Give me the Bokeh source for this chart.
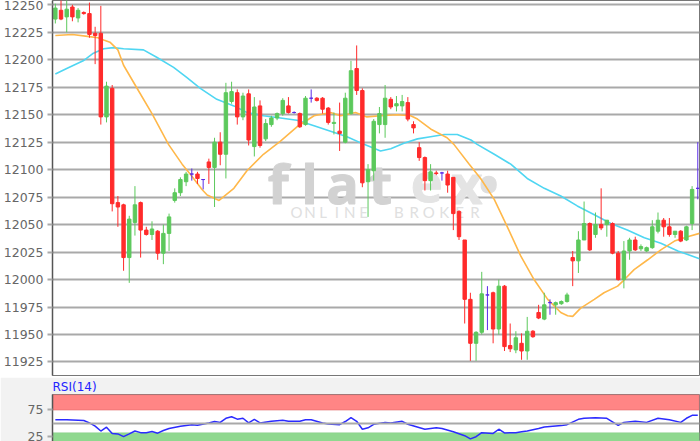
from bokeh.plotting import figure
from bokeh.layouts import column
from bokeh.models import (Range1d, FixedTicker, Label, BoxAnnotation, Span,
                          ColumnDataSource, GlobalInlineStyleSheet)
from bokeh.embed import file_html
from bokeh.resources import INLINE

# ---------------- data ----------------
opens = [12237, 12245, 12239, 12248, 12238, 12243, 12242, 12224, 12224, 12148,
         12174, 12070, 12068, 12020, 12052, 12070, 12045, 12041, 12044, 12024,
         12042, 12072, 12079, 12089, 12096, 12096, 12091, 12107, 12102, 12125,
         12114, 12162, 12170, 12148, 12169, 12121, 12158, 12128, 12141, 12147,
         12151, 12158, 12152, 12151, 12141, 12165, 12165, 12165, 12156, 12142,
         12135, 12125, 12151, 12192, 12172, 12089, 12099, 12141, 12141, 12164,
         12158, 12158, 12161, 12141, 12120, 12111, 12090, 12097, 12097, 12096,
         12093, 12062, 12036, 11982, 11942, 11952, 11986, 11988, 11955, 11994,
         11940, 11936, 11942, 11935, 11953, 11970, 11964, 11979, 11977, 11978,
         11980, 12020, 12017, 12036, 12051, 12041, 12050, 12050, 12051, 12024,
         12000, 12026, 12036, 12028, 12026, 12029, 12044, 12054, 12048, 12041,
         12044, 12036, 12051, 12083]
highs = [12251, 12256, 12256, 12250, 12247, 12244, 12252, 12230, 12249, 12180,
         12177, 12076, 12069, 12058, 12085, 12071, 12048, 12053, 12045, 12050,
         12060, 12083, 12093, 12098, 12101, 12098, 12091, 12110, 12129, 12134,
         12179, 12180, 12173, 12170, 12173, 12166, 12163, 12146, 12149, 12152,
         12165, 12166, 12153, 12152, 12167, 12173, 12166, 12166, 12157, 12152,
         12161, 12170, 12199, 12213, 12174, 12105, 12146, 12157, 12177, 12166,
         12167, 12168, 12166, 12144, 12125, 12112, 12105, 12099, 12098, 12099,
         12093, 12063, 12036, 11988, 11953, 12007, 11994, 11989, 12000, 11995,
         11960, 11953, 11951, 11966, 11954, 11977, 11988, 11982, 11980, 11981,
         11988, 12026, 12044, 12071, 12052, 12061, 12083, 12054, 12052, 12026,
         12035, 12038, 12039, 12032, 12030, 12054, 12061, 12056, 12056, 12044,
         12045, 12049, 12085, 12125]
lows = [12233, 12236, 12225, 12235, 12234, 12241, 12220, 12196, 12141, 12143,
        12062, 12048, 12008, 11997, 12040, 12020, 12040, 12036, 12018, 12014,
        12026, 12070, 12076, 12085, 12090, 12087, 12082, 12087, 12066, 12104,
        12092, 12160, 12141, 12145, 12122, 12112, 12120, 12126, 12139, 12145,
        12149, 12151, 12151, 12138, 12140, 12161, 12162, 12151, 12141, 12132,
        12117, 12124, 12150, 12168, 12084, 12057, 12090, 12133, 12129, 12155,
        12153, 12153, 12144, 12133, 12108, 12081, 12081, 12095, 12090, 12079,
        12045, 12036, 11960, 11926, 11926, 11950, 11954, 11942, 11950, 11935,
        11934, 11933, 11927, 11927, 11947, 11964, 11963, 11968, 11968, 11977,
        11979, 11994, 12006, 12036, 12026, 12038, 12045, 12039, 12023, 11999,
        11992, 12018, 12026, 12026, 12025, 12028, 12042, 12039, 12039, 12038,
        12034, 12035, 12045, 12073]
closes = [12247, 12237, 12246, 12239, 12245, 12242, 12223, 12222, 12148, 12176,
          12069, 12066, 12020, 12055, 12068, 12045, 12041, 12046, 12024, 12042,
          12057, 12079, 12091, 12096, 12096, 12092, 12091, 12102, 12125, 12114,
          12170, 12171, 12148, 12167, 12127, 12157, 12122, 12142, 12147, 12151,
          12163, 12152, 12152, 12139, 12165, 12165, 12163, 12155, 12143, 12143,
          12133, 12165, 12190, 12172, 12088, 12100, 12144, 12151, 12165, 12157,
          12160, 12162, 12146, 12138, 12111, 12090, 12098, 12096.5, 12097, 12086,
          12060, 12039, 11982, 11942, 11952, 11987, 11986, 11955, 11994, 11939,
          11937, 11947, 11935, 11953, 11948, 11965, 11977, 11979, 11979, 11980,
          11986, 12017, 12036, 12051, 12027, 12050, 12047, 12054, 12024, 12000,
          12026, 12036, 12027, 12030, 12029, 12048, 12054, 12048, 12041, 12044,
          12035, 12048, 12082, 12083]

# moving averages, read at sample positions (candle index, price)
ma_fast_x = [0, 3, 6, 7.5, 8.5, 9.6, 11, 12, 14.6, 17, 19.9, 22.3, 23.7, 25.8, 26.7,
             28.8, 31.4, 33.7, 36.6, 39.6, 42.5, 45.5, 48.4, 50.2, 52.8, 54.8, 57.2,
             60.1, 62.5, 63.7, 66, 68.9, 70.1, 72.8, 74.8, 77.2, 79.5, 81.9, 84.2,
             86.6, 88.9, 90.1, 91, 92.4, 94.8, 96.5, 98.9, 100.1, 101.8, 104.2,
             106.5, 108.9, 111.2, 113.3]
ma_fast_y = [12222, 12223, 12221, 12220, 12218, 12216, 12209, 12195, 12172, 12151,
             12123, 12105, 12096, 12082, 12077, 12072, 12083, 12099, 12114, 12126,
             12139, 12149, 12152, 12149, 12152, 12148, 12149, 12150, 12149, 12146,
             12137, 12129, 12123, 12105, 12092, 12073, 12048, 12021, 12000, 11982,
             11970, 11967, 11966.5, 11974, 11982, 11988, 11994, 12000, 12009, 12018,
             12027, 12035, 12039, 12042]
ma_slow_x = [0, 2, 4.9, 6.7, 8.5, 10.2, 12, 15.5, 17.9, 20.8, 23.1, 25.5, 28.4, 31.4,
             33.7, 36.6, 39.6, 42.5, 45.5, 48.4, 51.3, 54.3, 57.2, 59, 61.3, 63.7,
             66, 68.4, 70.7, 73.1, 74.2, 77.2, 80.1, 83, 86, 88.9, 91.8, 94.8, 97.7,
             100.6, 103.6, 106.5, 109.5, 113.3]
ma_slow_y = [12187, 12192, 12199, 12206, 12210, 12211, 12210, 12209, 12202, 12193,
             12184, 12174, 12164, 12158, 12152, 12149, 12147, 12145, 12140, 12135,
             12130, 12123, 12117, 12119, 12124, 12128, 12130, 12132, 12132, 12127,
             12123, 12114, 12105, 12092, 12083, 12076, 12067, 12059, 12051, 12045,
             12038, 12033, 12026, 12019]

# RSI(14)
rsi_x = [0, 2, 5, 6, 7, 8, 9, 10, 11, 12, 13, 14, 15, 16, 17, 18, 19, 20, 22, 24, 25,
         27, 28, 29, 30, 31, 32, 33, 34, 35, 36, 38, 40, 41, 43, 44, 45, 47, 48, 50,
         51, 52, 53, 54, 55, 56, 58, 59, 61, 62, 65, 67, 68, 70, 72, 73, 74, 75, 77,
         78, 79, 81, 82, 83, 85, 86, 89, 90, 92, 93, 95, 97, 99, 100, 102, 104, 106,
         108, 110, 111, 112, 113]
rsi_y = [57, 57, 55.4, 51, 45, 36, 43, 31.5, 30.6, 25.5, 30.6, 36, 33, 33, 35, 32, 37,
         40.7, 44.9, 47.8, 46.6, 51, 53.6, 52, 59.6, 62.5, 58, 59.6, 51, 57.6, 51, 54,
         55.8, 54, 54, 57, 57, 51, 49, 47.8, 53.6, 61, 54, 39.3, 42, 48.5, 52, 51, 54,
         48.5, 39.3, 42, 40.7, 34.5, 27.3, 21.4, 25.5, 33, 31.5, 39.3, 32.5, 33, 34.5,
         36, 40.7, 43.6, 46, 47.8, 57.6, 59.6, 60.5, 59.6, 46.6, 52, 54, 52, 59.6, 57,
         52, 59.6, 65, 65]

price_ticks = [11925, 11950, 11975, 12000, 12025, 12050, 12075, 12100, 12125,
               12150, 12175, 12200, 12225, 12250]
rsi_ticks = [25, 75]

# ---------------- styling constants ----------------
RED = "#ff2b2b"
GREEN = "#5cc95c"
PURPLE = "#5a2be8"
FONT = "DejaVu Sans"
GRID = "#a9a9a9"

idx = list(range(len(opens)))
colors = [GREEN if c > o else (RED if c < o else PURPLE) for o, c in zip(opens, closes)]
src = ColumnDataSource(dict(
    x=idx, o=opens, h=highs, l=lows, c=closes,
    top=[max(o, c) for o, c in zip(opens, closes)],
    bot=[min(o, c) for o, c in zip(opens, closes)],
    color=colors))

xr = Range1d(-0.5, 113.3)

p = figure(width=700, height=377, x_range=xr, y_range=Range1d(11912.7, 12253.9),
           output_backend="svg", toolbar_location=None,
           min_border_left=52, min_border_right=1, min_border_top=0, min_border_bottom=2)
p.background_fill_color = "white"
p.border_fill_color = "white"
p.outline_line_color = "#777777"
p.xaxis.visible = False
p.xgrid.visible = False
p.ygrid.grid_line_color = GRID
p.ygrid.grid_line_width = 2
p.yaxis.ticker = FixedTicker(ticks=price_ticks)
p.yaxis.axis_line_color = "#555555"
p.yaxis.axis_line_width = 1.5
p.yaxis.major_tick_line_color = GRID
p.yaxis.major_tick_line_width = 2
p.yaxis.major_tick_out = 5
p.yaxis.major_tick_in = 0
p.yaxis.minor_tick_line_color = None
p.yaxis.major_label_text_font = FONT
p.yaxis.major_label_text_font_size = "12.5px"
p.yaxis.major_label_text_color = "#666666"
p.yaxis.major_label_standoff = 4

# watermark
wm = [("f", 39.2, "#d2d2d2"), ("l", 44.7, "#d2d2d2"), ("a", 50.5, "#d2d2d2"),
      ("t", 57.2, "#d2d2d2"), ("e", 65.3, "#e4e4e4"), ("x", 72.4, "#e4e4e4"),
      ("\u2022", 76.2, "#dedede")]
for ch, xx, col in wm:
    p.add_layout(Label(x=xx, y=12088, text=ch, text_font="Open Sans", text_font_style="bold",
                       text_font_size="54px", text_color=col, text_align="center",
                       text_outline_color=col,
                       text_baseline="alphabetic", level="underlay"))
sub = "ONLINE BROKER"
sub_x = [42.4, 44.8, 47.1, 49.5, 51.8, 54.2, None, 60.4, 63.1, 65.7, 68.4, 71.1, 73.8]
for ch, xx in zip(sub, sub_x):
    if xx is None:
        continue
    p.add_layout(Label(x=xx, y=12061.2, text=ch, text_font="Lato",
                       text_font_size="15px", text_color="#e0e0e0", text_align="center",
                       text_baseline="alphabetic", level="underlay"))

p.line(ma_slow_x, ma_slow_y, line_color="#4fd6f2", line_width=1.6)
p.line(ma_fast_x, ma_fast_y, line_color="#ffb84a", line_width=1.6)
p.segment(x0="x", y0="l", x1="x", y1="h", line_color="color", line_width=1, source=src)
p.vbar(x="x", top="top", bottom="bot", width=0.6, fill_color="color",
       line_color="color", line_width=1, source=src)

# ---------------- RSI panel ----------------
r = figure(width=700, height=64, x_range=xr, y_range=Range1d(16.6, 103.6),
           output_backend="svg", toolbar_location=None, title="RSI(14)",
           min_border_left=52, min_border_right=1, min_border_top=0, min_border_bottom=0)
r.title.text_font = FONT
r.title.text_font_size = "12px"
r.title.text_font_style = "normal"
r.title.text_color = "#2323ff"
r.title.align = "left"
r.title.standoff = 1
r.title.offset = 0
r.background_fill_color = "white"
r.border_fill_color = "#f2f2f2"
r.outline_line_color = "#777777"
r.xaxis.visible = False
r.xgrid.visible = False
r.ygrid.visible = False
r.yaxis.ticker = FixedTicker(ticks=rsi_ticks)
r.yaxis.axis_line_color = "#555555"
r.yaxis.axis_line_width = 1.5
r.yaxis.major_tick_line_color = GRID
r.yaxis.major_tick_line_width = 2
r.yaxis.major_tick_out = 5
r.yaxis.major_tick_in = 0
r.yaxis.minor_tick_line_color = None
r.yaxis.major_label_text_font = FONT
r.yaxis.major_label_text_font_size = "12.5px"
r.yaxis.major_label_text_color = "#666666"
r.yaxis.major_label_standoff = 4
r.add_layout(BoxAnnotation(bottom=75, fill_color="#ff8585", fill_alpha=1,
                           line_color="#e06a6a", line_width=2, level="underlay"))
r.add_layout(BoxAnnotation(top=33, fill_color="#8fd88f", fill_alpha=1,
                           line_color="#6cc06c", line_width=1, level="underlay"))
r.add_layout(Span(location=50, dimension="width", line_color=GRID, line_width=2))
r.line(rsi_x, rsi_y, line_color="#2b2bff", line_width=1.5)

layout = column(p, r, spacing=0)
layout.stylesheets = [GlobalInlineStyleSheet(css="html, body {margin:0 !important; padding:0; overflow:hidden;}")]

open("out.html", "w").write(file_html(layout, INLINE))
